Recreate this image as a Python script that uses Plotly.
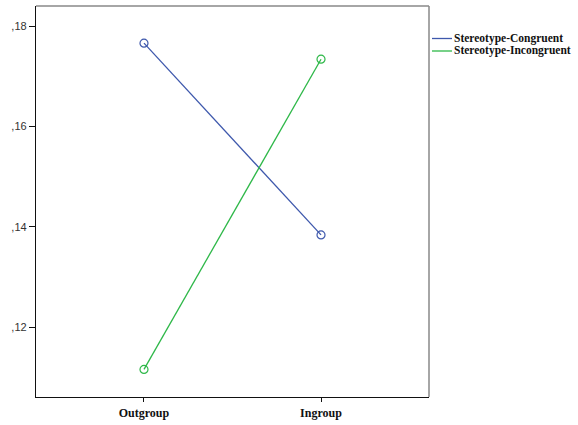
import plotly.graph_objects as go

categories = ["Outgroup", "Ingroup"]
series_names = ["Stereotype-Congruent", "Stereotype-Incongruent"]
congruent = [0.1766, 0.1384]
incongruent = [0.1116, 0.1734]
series_values = [congruent, incongruent]
colors = ["#3E58AC", "#2EB848"]
y_ticks = [0.12, 0.14, 0.16, 0.18]
y_tick_labels = [",12", ",14", ",16", ",18"]

W, H = 578, 425
ml, mr, mt, mb = 36, 149, 6, 28

fig = go.Figure()
for name, vals, col in zip(series_names, series_values, colors):
    fig.add_trace(go.Scatter(
        x=[0, 1], y=vals, mode="lines+markers", name=name,
        line=dict(color=col, width=1.3),
        marker=dict(symbol="circle-open", size=8, color=col, line=dict(width=1.2)),
        showlegend=False,
    ))

# Legend drawn as shapes + annotations outside the plot area
plot_h = H - mt - mb
plot_w = W - ml - mr
legend_rows_px = [38.5, 51]
shapes = []
annotations = []
for name, col, ypx in zip(series_names, colors, legend_rows_px):
    yp = 1 - (ypx - mt) / plot_h
    shapes.append(dict(type="line", xref="paper", yref="paper",
                       x0=(432 - ml) / plot_w, x1=(452 - ml) / plot_w,
                       y0=yp, y1=yp, line=dict(color=col, width=1.3)))
    annotations.append(dict(text="<b>%s</b>" % name, xref="paper", yref="paper",
                            x=(452 - ml) / plot_w, y=yp, xanchor="left", yanchor="middle",
                            showarrow=False, font=dict(family="Liberation Serif", size=11.5, color="#111")))

# top and right gray frame
shapes.append(dict(type="line", xref="paper", yref="paper", x0=0, x1=1, y0=1, y1=1,
                   line=dict(color="#888", width=1.5)))
shapes.append(dict(type="line", xref="paper", yref="paper", x0=1, x1=1, y0=0, y1=1,
                   line=dict(color="#888", width=1.5)))

fig.update_layout(
    width=W, height=H,
    margin=dict(l=ml, r=mr, t=mt, b=mb, pad=0),
    paper_bgcolor="white", plot_bgcolor="white",
    shapes=shapes, annotations=annotations,
    xaxis=dict(range=[-0.61, 1.61], tickvals=[0, 1], ticktext=["<b>%s</b>" % c for c in categories],
               showgrid=False, zeroline=False, showline=True, linecolor="#111", linewidth=1.3,
               ticks="outside", ticklen=4, tickcolor="#111", tickwidth=1,
               tickfont=dict(family="Liberation Serif", size=12, color="#111")),
    yaxis=dict(range=[0.1061, 0.1840], tickvals=y_ticks, ticktext=y_tick_labels,
               showgrid=False, zeroline=False, showline=True, linecolor="#111", linewidth=1.3,
               ticks="outside", ticklen=6, tickcolor="#111", tickwidth=1.3,
               tickfont=dict(family="Liberation Sans", size=11, color="#333")),
)

fig.write_html("out.html", config={"displayModeBar": False},
               post_script="document.body.style.margin='0';")
